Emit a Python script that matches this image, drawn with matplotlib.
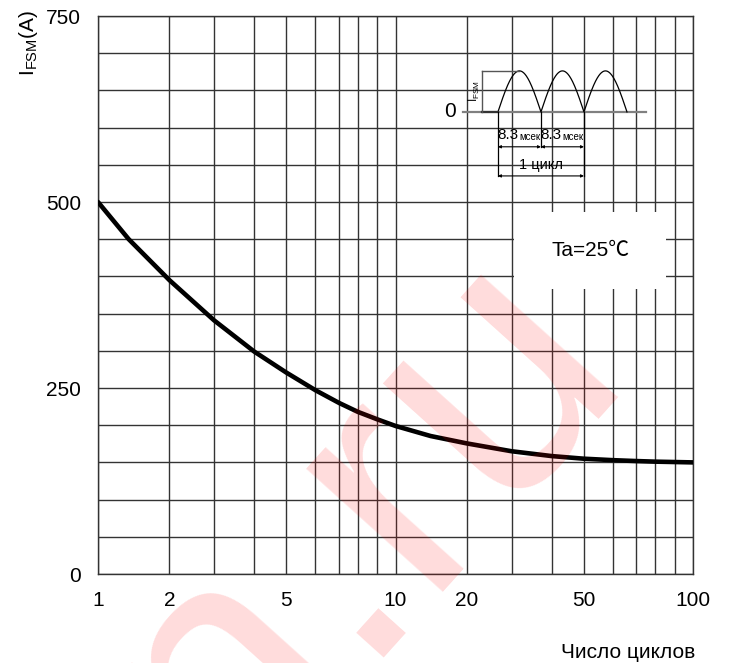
import numpy as np
import matplotlib
matplotlib.use("Agg")
import matplotlib.pyplot as plt
from matplotlib.patches import Rectangle
from matplotlib.ticker import FixedLocator, NullLocator

plt.rcParams['font.family'] = ['Liberation Sans', 'Noto Sans CJK JP', 'DejaVu Sans']

# surge current vs number of cycles
cycles = [1, 1.43, 2, 3, 4, 5, 6, 7, 8, 9, 10, 14.9, 20, 30, 40, 50, 60, 70, 80, 90, 100]
ifsm = [500, 450, 395, 341, 299, 271, 247, 230, 218, 208, 199, 185.5, 175.5,
        165, 158.5, 155, 153, 151.8, 151, 150.5, 150]

x_grid = [1, 2, 3, 4, 5, 6, 7, 8, 9, 10, 20, 30, 40, 50, 60, 70, 80, 90, 100]
x_labels = ['1', '2', '', '', '5', '', '', '', '', '10', '20', '', '', '50', '', '', '', '', '100']
y_grid = list(range(0, 751, 50))
y_labels = [str(v) if v % 250 == 0 else '' for v in y_grid]

# the printed grid is not a true log grid, each decade is spaced like this
mant = np.arange(1, 11)
frac = np.array([0, 0.240, 0.390, 0.525, 0.632, 0.731, 0.810, 0.873, 0.938, 1.0])


def fwd(x):
    x = np.clip(np.asarray(x, float), 1e-6, None)
    d = np.floor(np.log10(x) + 1e-12)
    return d + np.interp(x / 10.0**d, mant, frac)


def inv(y):
    y = np.asarray(y, float)
    d = np.floor(y)
    return np.interp(y - d, frac, mant) * 10.0**d


W, H = 734, 663
fig = plt.figure(figsize=(W / 100, H / 100), dpi=100)
ax = fig.add_axes([98 / W, 1 - 574 / H, 595 / W, 558 / H])

ax.set_xscale('function', functions=(fwd, inv))
ax.set_xlim(1, 100)
ax.set_ylim(0, 750)
ax.xaxis.set_major_locator(FixedLocator(x_grid))
ax.xaxis.set_minor_locator(NullLocator())
ax.set_xticklabels(x_labels)
ax.set_yticks(y_grid)
ax.set_yticklabels(y_labels)
ax.tick_params(length=0, labelsize=15, pad=12)
ax.grid(True, color='#333333', lw=1.0)
ax.set_axisbelow(True)
for s in ax.spines.values():
    s.set_color('#333333')
    s.set_linewidth(1.0)

ax.plot(cycles, ifsm, color='black', lw=3.3, solid_capstyle='round',
        solid_joinstyle='round', zorder=4)

# Ta label box
ax.add_patch(Rectangle((0.699, 0.511), 0.256, 0.138, transform=ax.transAxes,
                       facecolor='white', edgecolor='none', zorder=3))
ax.text(0.827, 0.58, 'Ta=25℃', transform=ax.transAxes, ha='center', va='center',
        fontsize=15, zorder=5)

fig.text(28 / W, 1 - 43 / H, r'I$_{\mathregular{FSM}}$(A)', rotation=90,
         ha='center', va='center', fontsize=15)
fig.text(628 / W, 1 - 652 / H, 'Число циклов', ha='center', va='center', fontsize=15)

# waveform sketch (half-sine pulses of 8.3 ms)
axi = fig.add_axes([442 / W, 1 - 187 / H, 206 / W, 160 / H], zorder=5)
axi.set_xlim(-10.8, 28.96)
axi.set_ylim(-1.83, 2.07)
axi.axis('off')
axi.patch.set_visible(True)
axi.patch.set_facecolor('white')
T = 8.3
t = np.linspace(0, 3 * T, 400)
axi.plot([-6.76, 28.6], [0, 0], color='#808080', lw=1.6)
axi.plot(t, np.abs(np.sin(np.pi * t / T)), color='black', lw=0.9)
axi.plot([-3.1, 0], [0, 0], color='#333333', lw=1.6)
axi.plot([-3.1, -3.1], [0, 1], color='#555555', lw=1.0)
axi.plot([-3.1, T / 2], [1, 1], color='#555555', lw=1.0)
axi.text(-4.6, 0.5, r'I$_{\mathregular{FSM}}$', rotation=90, ha='center', va='center', fontsize=8.5)
axi.text(-9.3, 0, '0', ha='center', va='center', fontsize=15)
for x0, y1 in [(0, -1.56), (T, -0.85), (2 * T, -1.56)]:
    axi.plot([x0, x0], [0, y1], color='black', lw=0.9)
arrow = dict(arrowstyle='<|-|>', color='black', lw=0.8, mutation_scale=4,
             shrinkA=0, shrinkB=0)
for a, b in [(0, T), (T, 2 * T)]:
    axi.annotate('', xy=(a, -0.85), xytext=(b, -0.85), arrowprops=arrow)
    axi.text(a + 4.05, -0.56, '8.3', ha='right', va='center', fontsize=11)
    axi.text(a + 4.05, -0.6, 'мсек', ha='left', va='center', fontsize=7)
axi.annotate('', xy=(0, -1.56), xytext=(2 * T, -1.56), arrowprops=arrow)
axi.text(T, -1.3, '1 цикл', ha='center', va='center', fontsize=10.5)

# watermark
fig.text(628 / W, 1 - 362 / H, 'platan.ru', rotation=48, rotation_mode='anchor',
         ha='right', va='baseline', fontsize=250, color='red', alpha=0.14, zorder=10,
         family='Liberation Sans')

fig.savefig('out.png', dpi=100)
